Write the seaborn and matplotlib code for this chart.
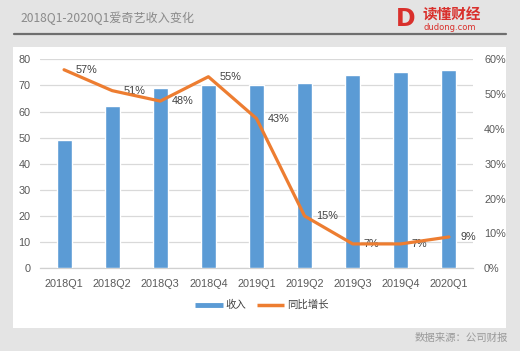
import numpy as np
import matplotlib
matplotlib.use("Agg")
import matplotlib.pyplot as plt
from matplotlib.lines import Line2D
from matplotlib.patches import Rectangle
import seaborn as sns

quarters = ["2018Q1", "2018Q2", "2018Q3", "2018Q4", "2019Q1",
            "2019Q2", "2019Q3", "2019Q4", "2020Q1"]
revenue = [49, 62, 69, 70, 70, 71, 74, 75, 76]
growth = [57, 51, 48, 55, 43, 15, 7, 7, 9]
left_ticks = [0, 10, 20, 30, 40, 50, 60, 70, 80]
right_ticks = [0, 10, 20, 30, 40, 50, 60]

title = "2018Q1-2020Q1爱奇艺收入变化"
legend_labels = ["收入", "同比增长"]
source = "数据来源：公司财报"

sns.set_theme(style="white")
plt.rcParams["font.family"] = ["Liberation Sans", "Noto Sans CJK SC", "DejaVu Sans"]

BLUE = "#5B9BD5"
ORANGE = "#ED7D31"
TXT = "#595959"

W, H = 520, 351
fig = plt.figure(figsize=(W / 100, H / 100), dpi=100)
fig.patch.set_facecolor("#e4e4e4")

def fx(px):
    return px / W

def fy(py):
    return 1 - py / H

# white panel
fig.add_artist(Rectangle((fx(13), fy(328)), fx(506 - 13), (328 - 47) / H,
                         transform=fig.transFigure, facecolor="white",
                         edgecolor="none", zorder=0))
# header rule
fig.add_artist(Line2D([fx(14), fx(506)], [fy(33.5), fy(33.5)],
                      transform=fig.transFigure, color="#6e6e6e", lw=1.6))
fig.text(fx(20), fy(18), title, fontsize=8.7, color="#8a8a8a",
         family=["Noto Sans CJK SC", "DejaVu Sans"], va="center", ha="left")

# logo
fig.text(fx(406), fy(19), "D", fontsize=17, color="#d9302c", fontweight="bold",
         va="center", ha="center", family=["DejaVu Sans"])
fig.text(fx(423), fy(15), "读懂财经", fontsize=10.5, color="#d9302c",
         fontweight="bold", va="center", ha="left",
         family=["Noto Sans CJK SC", "DejaVu Sans"])
fig.text(fx(424), fy(27), "dudong.com", fontsize=6, color="#d9302c",
         va="center", ha="left", family=["DejaVu Sans"])

ax = fig.add_axes([fx(40), fy(268.3), fx(473 - 40), (268.3 - 59.3) / H])
ax.set_facecolor("none")
sns.barplot(x=quarters, y=revenue, color=BLUE, width=0.31, ax=ax,
            saturation=1, zorder=3)
ax.set_ylim(0, 80)
ax.set_xlim(-0.5, len(quarters) - 0.5)
ax.set_yticks(left_ticks)
ax.set_yticklabels([str(t) for t in left_ticks])
ax.grid(axis="y", color="#d9d9d9", lw=0.9, zorder=0)
ax.set_axisbelow(True)
for s in ["top", "left", "right"]:
    ax.spines[s].set_visible(False)
ax.spines["bottom"].set_color("#d0d0d0")
ax.spines["bottom"].set_linewidth(0.9)
ax.tick_params(axis="y", length=0, pad=7, labelsize=7.8, labelcolor=TXT)
ax.tick_params(axis="x", length=0, pad=8, labelsize=7.8, labelcolor=TXT)
ax.set_xlabel("")
ax.set_ylabel("")

ax2 = ax.twinx()
xs = np.arange(len(quarters))
sns.lineplot(x=xs, y=growth, color=ORANGE, lw=2.3, ax=ax2, zorder=4)
ax2.set_ylim(0, 60)
ax2.set_yticks(right_ticks)
ax2.set_yticklabels([f"{t}%" for t in right_ticks])
ax2.tick_params(axis="y", length=0, pad=8, labelsize=7.8, labelcolor=TXT)
for s in ["top", "left", "right", "bottom"]:
    ax2.spines[s].set_visible(False)
ax2.set_ylabel("")
ax2.set_xlim(-0.5, len(quarters) - 0.5)
for x, g in zip(xs, growth):
    ax2.annotate(f"{g}%", (x, g), xytext=(8, 0), textcoords="offset points",
                 ha="left", va="center", fontsize=7.8, color="#404040")

handles = [Line2D([], [], color=BLUE, lw=3.5, solid_capstyle="butt"),
           Line2D([], [], color=ORANGE, lw=2.5, solid_capstyle="butt")]
fig.legend(handles, legend_labels, loc="center", bbox_to_anchor=(fx(262), fy(305)),
           ncol=2, frameon=False, handlelength=2.6,
           handletextpad=0.3, columnspacing=1.0,
           prop={"family": ["Noto Sans CJK SC", "DejaVu Sans"], "size": 7.5})
for t in fig.legends[0].get_texts():
    t.set_color("#404040")

fig.text(fx(508), fy(338), source, fontsize=7.5, color="#9a9a9a",
         ha="right", va="center", family=["Noto Sans CJK SC", "DejaVu Sans"])

fig.savefig("out.png", dpi=100)
